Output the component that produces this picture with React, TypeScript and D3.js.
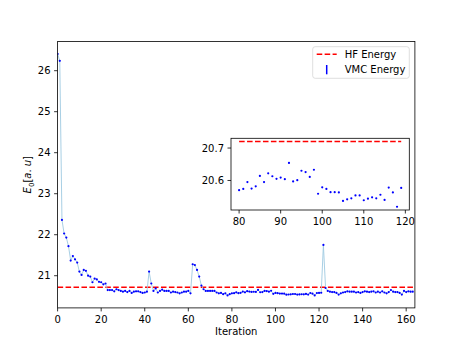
import React from "react";
import * as d3 from "d3";

const energies: number[] = [
  26.41, 26.24, 22.36, 22.03, 21.93, 21.72, 21.37, 21.48, 21.4, 21.32,
  21.1, 21.02, 21.14, 21.12, 21.0, 20.98, 20.84, 20.93, 20.91, 20.85,
  20.84, 20.79, 20.81, 20.65, 20.65, 20.65, 20.62, 20.67, 20.65, 20.63,
  20.61, 20.63, 20.6, 20.63, 20.58, 20.61, 20.62, 20.62, 20.6, 20.58,
  20.59, 20.61, 21.1, 20.81, 20.63, 20.69, 20.59, 20.63, 20.66, 20.63,
  20.63, 20.63, 20.59, 20.61, 20.6, 20.59, 20.57, 20.59, 20.61, 20.61,
  20.63, 20.57, 21.28, 21.26, 21.14, 20.98, 20.76, 20.67, 20.63, 20.63,
  20.63, 20.63, 20.63, 20.59, 20.57, 20.58, 20.55, 20.57, 20.52, 20.55,
  20.57, 20.574, 20.595, 20.575, 20.582, 20.614, 20.595, 20.622, 20.613, 20.605,
  20.609, 20.604, 20.654, 20.597, 20.601, 20.63, 20.626, 20.611, 20.633, 20.559,
  20.579, 20.574, 20.564, 20.564, 20.563, 20.537, 20.542, 20.545, 20.554, 20.554,
  20.539, 20.544, 20.548, 20.545, 20.556, 20.54, 20.578, 20.563, 20.519, 20.577,
  20.58, 20.585, 21.75, 20.7, 20.63, 20.61, 20.6, 20.6, 20.58, 20.54,
  20.57, 20.59, 20.6, 20.62, 20.61, 20.61, 20.61, 20.59, 20.6, 20.58,
  20.6, 20.62, 20.61, 20.6, 20.61, 20.62, 20.59, 20.61, 20.59, 20.62,
  20.59, 20.57, 20.6, 20.65, 20.61, 20.6, 20.6, 20.58, 20.54, 20.63,
  20.6, 20.62, 20.61, 20.61,
];
const hfEnergy = 20.72;
const insetStart = 80;
const insetEnd = 119;
const mainXTicks = [0, 20, 40, 60, 80, 100, 120, 140, 160];
const mainYTicks = [21, 22, 23, 24, 25, 26];
const insetXTicks = [80, 90, 100, 110, 120];
const insetYTicks = [20.6, 20.7];
const legendLabels = ["HF Energy", "VMC Energy"];

const FONT = "DejaVu Sans, sans-serif";

export default function App() {
  const W = 461, H = 346;
  const m = { l: 57.6, r: 414.9, t: 41.5, b: 307.9 };
  const x = d3.scaleLinear().domain([0, 164]).range([m.l, m.r]);
  const y = d3.scaleLinear().domain([20.215, 26.712]).range([m.b, m.t]);
  const idx = energies.map((_, i) => i);
  const line = d3
    .line<number>()
    .x((i) => x(i))
    .y((i) => y(energies[i]));

  const ins = { l: 231, r: 409.3, t: 138.3, b: 210 };
  const insIdx = idx.filter((i) => i >= insetStart && i <= insetEnd);
  const insVals = insIdx.map((i) => energies[i]);
  const lo = Math.min(d3.min(insVals)!, hfEnergy);
  const hi = Math.max(d3.max(insVals)!, hfEnergy);
  const xm = (insetEnd - insetStart) * 0.05;
  const ym = (hi - lo) * 0.05;
  const ix = d3.scaleLinear().domain([insetStart - xm, insetEnd + xm]).range([ins.l, ins.r]);
  const iy = d3.scaleLinear().domain([lo - ym, hi + ym]).range([ins.b, ins.t]);

  const tickStyle = { fontFamily: FONT, fontSize: 10, fill: "#000" } as const;

  return (
    <svg width={W} height={H} style={{ position: "absolute", left: 0, top: 0 }}>
      <rect width={W} height={H} fill="#fff" />
      {/* main data */}
      <defs>
        <clipPath id="mainclip">
          <rect x={m.l} y={m.t} width={m.r - m.l} height={m.b - m.t} />
        </clipPath>
      </defs>
      <g clipPath="url(#mainclip)">
        <line x1={m.l} x2={m.r} y1={y(hfEnergy)} y2={y(hfEnergy)} stroke="#ff0000" strokeWidth={1.5} strokeDasharray="5.55 2.4" />
        <path d={line(idx)!} fill="none" stroke="#9ecae1" strokeWidth={0.9} />
        {idx.map((i) => (
          <circle key={i} cx={x(i)} cy={y(energies[i])} r={1.1} fill="#0000ff" />
        ))}
      </g>
      {/* main spines */}
      <rect x={m.l} y={m.t} width={m.r - m.l} height={m.b - m.t} fill="none" stroke="#000" strokeWidth={0.8} />
      {mainXTicks.map((t) => (
        <g key={"mx" + t}>
          <line x1={x(t)} x2={x(t)} y1={m.b} y2={m.b + 3.5} stroke="#000" strokeWidth={0.8} />
          <text x={x(t)} y={m.b + 15.2} textAnchor="middle" style={tickStyle}>{t}</text>
        </g>
      ))}
      {mainYTicks.map((t) => (
        <g key={"my" + t}>
          <line x1={m.l - 3.5} x2={m.l} y1={y(t)} y2={y(t)} stroke="#000" strokeWidth={0.8} />
          <text x={m.l - 7} y={y(t) + 3.6} textAnchor="end" style={tickStyle}>{t}</text>
        </g>
      ))}
      <text x={(m.l + m.r) / 2} y={335} textAnchor="middle" style={tickStyle}>Iteration</text>
      <text transform={`translate(31,${(m.t + m.b) / 2}) rotate(-90)`} textAnchor="middle" style={tickStyle}>
        <tspan fontStyle="italic">E</tspan>
        <tspan fontSize={7} dy={2.5}>0</tspan>
        <tspan dy={-2.5}>[</tspan>
        <tspan fontStyle="italic">a</tspan>
        <tspan>. </tspan>
        <tspan fontStyle="italic">u</tspan>
        <tspan>]</tspan>
      </text>
      {/* legend */}
      <g>
        <rect x={312.7} y={46.7} width={96.6} height={31.6} rx={2.5} fill="#fff" fillOpacity={0.8} stroke="#d6d6d6" strokeWidth={0.8} />
        <line x1={316.7} x2={336.7} y1={54.3} y2={54.3} stroke="#ff0000" strokeWidth={1.5} strokeDasharray="5.55 2.4" />
        <text x={344.7} y={57.8} style={tickStyle}>{legendLabels[0]}</text>
        <line x1={326.7} x2={326.7} y1={65} y2={74.3} stroke="#0000ff" strokeWidth={1.5} />
        <text x={344.7} y={73} style={tickStyle}>{legendLabels[1]}</text>
      </g>
      {/* inset */}
      <rect x={ins.l} y={ins.t} width={ins.r - ins.l} height={ins.b - ins.t} fill="#fff" />
      <line x1={ix(insetStart)} x2={ix(insetEnd)} y1={iy(hfEnergy)} y2={iy(hfEnergy)} stroke="#ff0000" strokeWidth={1.5} strokeDasharray="5.55 2.4" />
      {insIdx.map((i) => (
        <circle key={"i" + i} cx={ix(i)} cy={iy(energies[i])} r={1.1} fill="#0000ff" />
      ))}
      <rect x={ins.l} y={ins.t} width={ins.r - ins.l} height={ins.b - ins.t} fill="none" stroke="#000" strokeWidth={0.8} />
      {insetXTicks.map((t) => (
        <g key={"ix" + t}>
          <line x1={ix(t)} x2={ix(t)} y1={ins.b} y2={ins.b + 3.5} stroke="#000" strokeWidth={0.8} />
          <text x={ix(t)} y={ins.b + 15.2} textAnchor="middle" style={tickStyle}>{t}</text>
        </g>
      ))}
      {insetYTicks.map((t) => (
        <g key={"iy" + t}>
          <line x1={ins.l - 3.5} x2={ins.l} y1={iy(t)} y2={iy(t)} stroke="#000" strokeWidth={0.8} />
          <text x={ins.l - 7} y={iy(t) + 3.6} textAnchor="end" style={tickStyle}>{t.toFixed(1)}</text>
        </g>
      ))}
    </svg>
  );
}
